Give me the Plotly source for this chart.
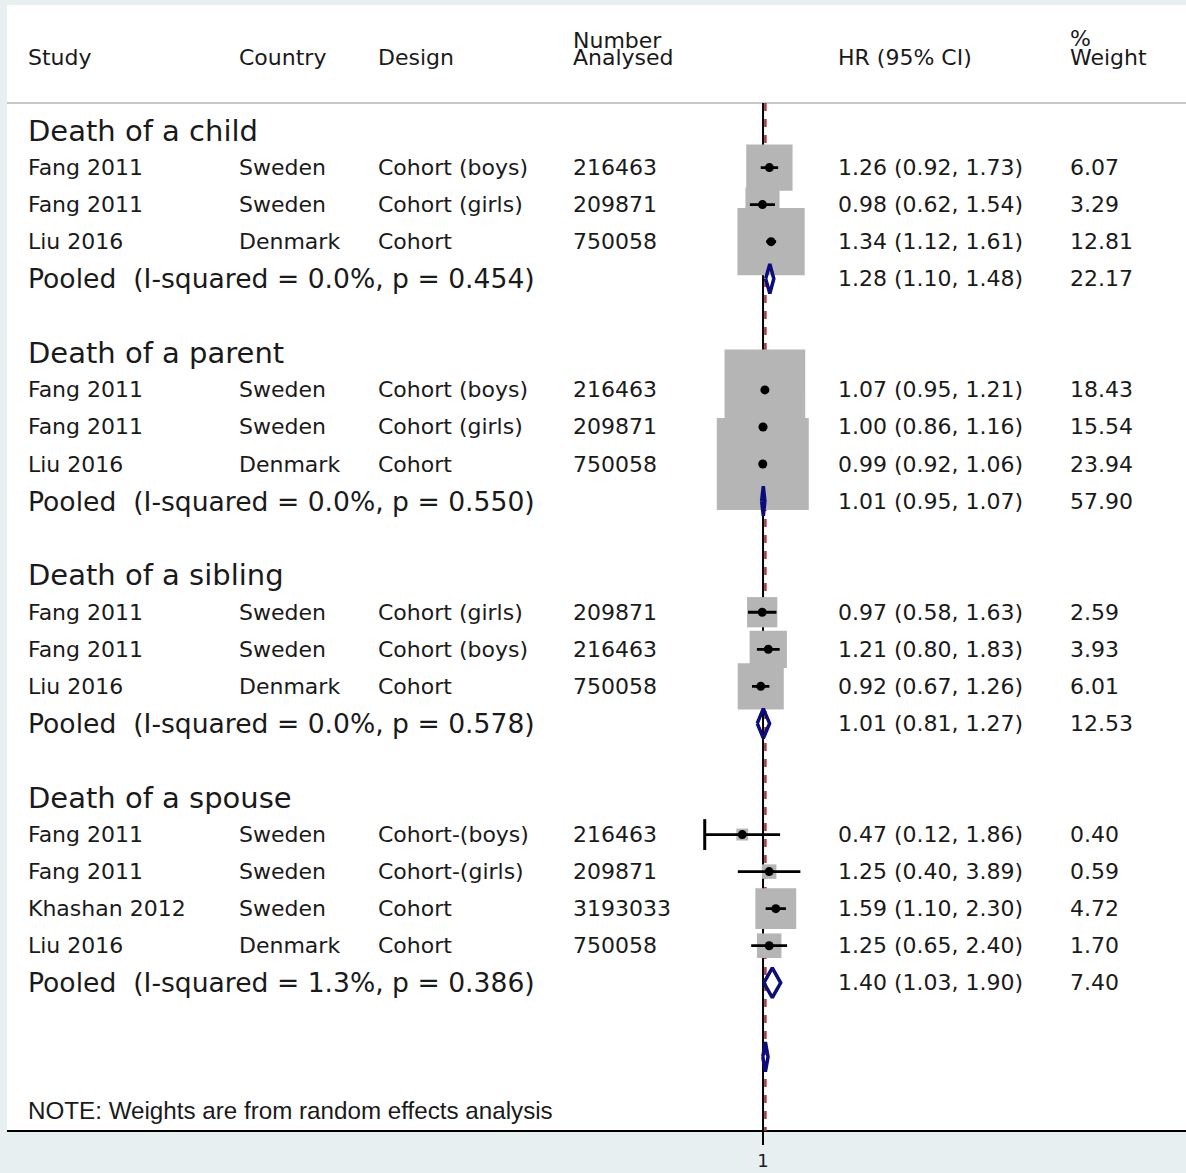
import math
import plotly.graph_objects as go

# ---------------- data ----------------
groups = ["Death of a child", "Death of a parent", "Death of a sibling", "Death of a spouse"]

study = ["Fang 2011", "Fang 2011", "Liu 2016",
         "Fang 2011", "Fang 2011", "Liu 2016",
         "Fang 2011", "Fang 2011", "Liu 2016",
         "Fang 2011", "Fang 2011", "Khashan 2012", "Liu 2016"]
country = ["Sweden", "Sweden", "Denmark",
           "Sweden", "Sweden", "Denmark",
           "Sweden", "Sweden", "Denmark",
           "Sweden", "Sweden", "Sweden", "Denmark"]
design = ["Cohort (boys)", "Cohort (girls)", "Cohort",
          "Cohort (boys)", "Cohort (girls)", "Cohort",
          "Cohort (girls)", "Cohort (boys)", "Cohort",
          "Cohort-(boys)", "Cohort-(girls)", "Cohort", "Cohort"]
n_analysed = [216463, 209871, 750058,
              216463, 209871, 750058,
              209871, 216463, 750058,
              216463, 209871, 3193033, 750058]
hr = [1.26, 0.98, 1.34,
      1.07, 1.00, 0.99,
      0.97, 1.21, 0.92,
      0.47, 1.25, 1.59, 1.25]
hr_lo = [0.92, 0.62, 1.12,
         0.95, 0.86, 0.92,
         0.58, 0.80, 0.67,
         0.12, 0.40, 1.10, 0.65]
hr_hi = [1.73, 1.54, 1.61,
         1.21, 1.16, 1.06,
         1.63, 1.83, 1.26,
         1.86, 3.89, 2.30, 2.40]
weight = [6.07, 3.29, 12.81,
          18.43, 15.54, 23.94,
          2.59, 3.93, 6.01,
          0.40, 0.59, 4.72, 1.70]
group_of = [0, 0, 0, 1, 1, 1, 2, 2, 2, 3, 3, 3, 3]

pooled_hr = [1.28, 1.01, 1.01, 1.40]
pooled_lo = [1.10, 0.95, 0.81, 1.03]
pooled_hi = [1.48, 1.07, 1.27, 1.90]
pooled_weight = [22.17, 57.90, 12.53, 7.40]
i_squared = [0.0, 0.0, 0.0, 1.3]
p_het = [0.454, 0.550, 0.578, 0.386]

overall_hr = 1.09
overall_lo = 0.99
overall_hi = 1.20

note_text = "NOTE: Weights are from random effects analysis"

# ---------------- row layout ----------------
heading_rows, study_rows, pooled_rows = [], [], []
r = 0
for g in range(len(groups)):
    heading_rows.append(r)
    members = [i for i, k in enumerate(group_of) if k == g]
    for j, _ in enumerate(members):
        study_rows.append(r + 1 + j)
    pooled_rows.append(r + 1 + len(members))
    r = r + len(members) + 3
overall_row = r
note_row = overall_row + 1.46
header_rule_row = -0.74
bottom_row = 27.0
top_row = -3.387

AXIS_MIN = 0.12
BOX_SCALE = 18.8          # px per sqrt(% weight)
DIAMOND_HALF = 0.4        # rows

TXT = "#1a1a1a"
FONT = "DejaVu Sans"
NAVY = "#0c0c7a"

fig = go.Figure()

# null line and overall-effect line (beneath the boxes)
fig.add_trace(go.Scatter(x=[1, 1], y=[header_rule_row, bottom_row], mode="lines",
                         line=dict(color="black", width=2), cliponaxis=False,
                         hoverinfo="skip"))
fig.add_trace(go.Scatter(x=[overall_hr, overall_hr], y=[header_rule_row, bottom_row],
                         mode="lines", line=dict(color="#a33a46", width=2.5, dash="8px,8px"),
                         cliponaxis=False, hoverinfo="skip"))

# weight boxes
fig.add_trace(go.Scatter(
    x=hr, y=study_rows, mode="markers", cliponaxis=False, hoverinfo="skip",
    marker=dict(symbol="square", color="#b5b5b5", opacity=1,
                size=[BOX_SCALE * math.sqrt(w) for w in weight], line=dict(width=0))))

# confidence intervals
ci_x, ci_y = [], []
for lo, hi, row in zip(hr_lo, hr_hi, study_rows):
    ci_x += [max(lo, AXIS_MIN), hi, None]
    ci_y += [row, row, None]
fig.add_trace(go.Scatter(x=ci_x, y=ci_y, mode="lines", cliponaxis=False,
                         line=dict(color="black", width=2.8), hoverinfo="skip"))

# end marks where an interval reaches the axis limit
cap_x = [AXIS_MIN for lo in hr_lo if lo <= AXIS_MIN]
cap_y = [row for lo, row in zip(hr_lo, study_rows) if lo <= AXIS_MIN]
fig.add_trace(go.Scatter(x=cap_x, y=cap_y, mode="markers", cliponaxis=False,
                         marker=dict(symbol="line-ns", size=22,
                                     line=dict(color="black", width=3)),
                         hoverinfo="skip"))

# point estimates
fig.add_trace(go.Scatter(x=hr, y=study_rows, mode="markers", cliponaxis=False,
                         marker=dict(symbol="circle", color="black", size=9, opacity=1),
                         hoverinfo="skip"))

# pooled diamonds
dx, dy = [], []
for est, lo, hi, row in zip(pooled_hr + [overall_hr], pooled_lo + [overall_lo],
                            pooled_hi + [overall_hi], pooled_rows + [overall_row]):
    dx += [lo, est, hi, est, lo, None]
    dy += [row, row - DIAMOND_HALF, row, row + DIAMOND_HALF, row, None]
fig.add_trace(go.Scatter(x=dx, y=dy, mode="lines", cliponaxis=False,
                         line=dict(color=NAVY, width=3.5), hoverinfo="skip"))

# ---------------- text columns ----------------
COL_STUDY, COL_COUNTRY, COL_DESIGN, COL_N, COL_HR, COL_W = (
    0.0162, 0.1951, 0.3130, 0.4784, 0.7032, 0.9000)


def label(x, row, text, size=22, family=FONT):
    fig.add_annotation(x=x, y=row, xref="paper", yref="y", text=text, showarrow=False,
                       xanchor="left", yanchor="middle",
                       font=dict(family=family, size=size, color=TXT))


# header
label(COL_STUDY, -1.96, "Study", 22)
label(COL_COUNTRY, -1.96, "Country", 22)
label(COL_DESIGN, -1.96, "Design", 22)
label(COL_N, -2.44, "Number", 22)
label(COL_N, -1.96, "Analysed", 22)
label(COL_HR, -1.96, "HR (95% CI)", 22)
label(COL_W, -2.47, "%", 22)
label(COL_W, -1.96, "Weight", 22)

for g, row in enumerate(heading_rows):
    label(COL_STUDY, row, groups[g], 29)

for i, row in enumerate(study_rows):
    label(COL_STUDY, row, study[i])
    label(COL_COUNTRY, row, country[i])
    label(COL_DESIGN, row, design[i])
    label(COL_N, row, str(n_analysed[i]))
    label(COL_HR, row, f"{hr[i]:.2f} ({hr_lo[i]:.2f}, {hr_hi[i]:.2f})")
    label(COL_W, row, f"{weight[i]:.2f}")

for g, row in enumerate(pooled_rows):
    label(COL_STUDY, row,
          f"Pooled  (I-squared = {i_squared[g]:.1f}%, p = {p_het[g]:.3f})", 26.6)
    label(COL_HR, row, f"{pooled_hr[g]:.2f} ({pooled_lo[g]:.2f}, {pooled_hi[g]:.2f})")
    label(COL_W, row, f"{pooled_weight[g]:.2f}")

label(COL_STUDY, note_row, note_text, 24.2, "Liberation Sans")

# ---------------- frame ----------------
rule_y = (bottom_row - header_rule_row) / (bottom_row - top_row)
fig.update_layout(
    shapes=[
        dict(type="rect", xref="paper", yref="paper", x0=0, x1=1, y0=0, y1=1,
             fillcolor="white", line=dict(width=0), layer="below"),
        dict(type="line", xref="paper", yref="paper", x0=0, x1=1, y0=rule_y, y1=rule_y,
             line=dict(color="#c8c8c8", width=2), layer="below"),
        dict(type="line", xref="paper", yref="paper", x0=0, x1=1, y0=0, y1=0,
             line=dict(color="black", width=2), layer="below"),
    ],
    width=1186, height=1173,
    margin=dict(l=7, r=0, t=5, b=42, autoexpand=False),
    paper_bgcolor="#e8eff1",
    plot_bgcolor="rgba(0,0,0,0)",
    showlegend=False,
    xaxis=dict(type="log", domain=[0.5918, 0.6907], automargin=False,
               range=[math.log10(AXIS_MIN), -math.log10(AXIS_MIN)],
               tickvals=[1], ticktext=["1"], ticks="outside", ticklen=13, tickwidth=2,
               tickcolor="black", showgrid=False, zeroline=False, showline=False,
               ticklabelstandoff=0,
               tickfont=dict(family=FONT, size=18, color=TXT)),
    yaxis=dict(range=[bottom_row, top_row], domain=[0, 1], visible=False,
               automargin=False),
)

fig.write_html("out.html")
